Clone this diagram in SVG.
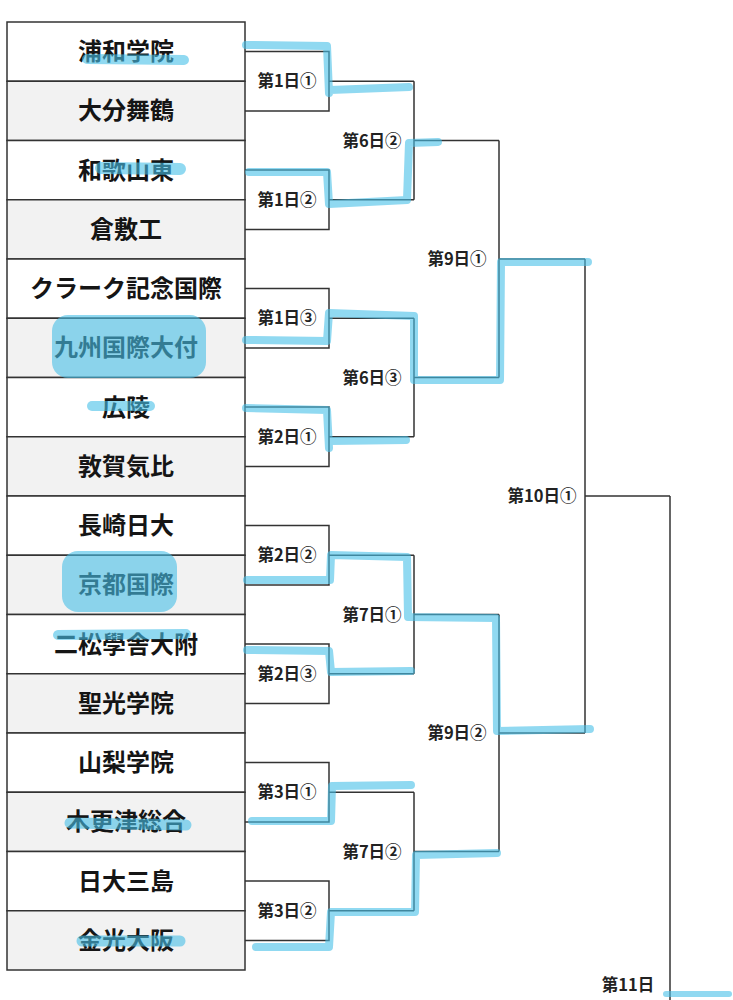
<svg xmlns="http://www.w3.org/2000/svg" width="733" height="1000" viewBox="0 0 733 1000">
<style>
.row{stroke:#333;stroke-width:1.5}
.odd{fill:#ffffff}
.even{fill:#f2f2f2}
.team{font-family:"Noto Sans CJK JP","Noto Sans",sans-serif;font-size:24px;font-weight:700;fill:#151515;text-anchor:middle;dominant-baseline:central}
.lbl{font-family:"Noto Sans CJK JP","Noto Sans",sans-serif;font-size:16.5px;font-weight:700;fill:#222;text-anchor:middle;dominant-baseline:central}
.wire{fill:none;stroke:#333;stroke-width:1.5}
.hl{fill:none;stroke:#48c0e8;stroke-width:8;stroke-linecap:round;stroke-linejoin:round}
.blob{fill:#48c0e8}
</style>
<rect x="0" y="0" width="733" height="1000" fill="#ffffff"/>
<g id="teams">
<g id="team-01"><rect class="row odd" x="7" y="22" width="238" height="59.25"/><text class="team" x="126" y="49.6">浦和学院</text></g>
<g id="team-02"><rect class="row even" x="7" y="81.25" width="238" height="59.25"/><text class="team" x="126" y="108.9">大分舞鶴</text></g>
<g id="team-03"><rect class="row odd" x="7" y="140.5" width="238" height="59.25"/><text class="team" x="126" y="168.1">和歌山東</text></g>
<g id="team-04"><rect class="row even" x="7" y="199.75" width="238" height="59.25"/><text class="team" x="126" y="227.4">倉敷工</text></g>
<g id="team-05"><rect class="row odd" x="7" y="259" width="238" height="59.25"/><text class="team" x="126" y="286.6">クラーク記念国際</text></g>
<g id="team-06"><rect class="row even" x="7" y="318.25" width="238" height="59.25"/><text class="team" x="126" y="345.9">九州国際大付</text></g>
<g id="team-07"><rect class="row odd" x="7" y="377.5" width="238" height="59.25"/><text class="team" x="126" y="405.1">広陵</text></g>
<g id="team-08"><rect class="row even" x="7" y="436.75" width="238" height="59.25"/><text class="team" x="126" y="464.4">敦賀気比</text></g>
<g id="team-09"><rect class="row odd" x="7" y="496" width="238" height="59.25"/><text class="team" x="126" y="523.6">長崎日大</text></g>
<g id="team-10"><rect class="row even" x="7" y="555.25" width="238" height="59.25"/><text class="team" x="126" y="582.9">京都国際</text></g>
<g id="team-11"><rect class="row odd" x="7" y="614.5" width="238" height="59.25"/><text class="team" x="126" y="642.1">二松學舎大附</text></g>
<g id="team-12"><rect class="row even" x="7" y="673.75" width="238" height="59.25"/><text class="team" x="126" y="701.4">聖光学院</text></g>
<g id="team-13"><rect class="row odd" x="7" y="733" width="238" height="59.25"/><text class="team" x="126" y="760.6">山梨学院</text></g>
<g id="team-14"><rect class="row even" x="7" y="792.25" width="238" height="59.25"/><text class="team" x="126" y="819.9">木更津総合</text></g>
<g id="team-15"><rect class="row odd" x="7" y="851.5" width="238" height="59.25"/><text class="team" x="126" y="879.1">日大三島</text></g>
<g id="team-16"><rect class="row even" x="7" y="910.75" width="238" height="59.25"/><text class="team" x="126" y="938.4">金光大阪</text></g>
</g>
<g id="connectors">
<path class="wire" d="M245,51.6 H329 V110.9 H245 M329,81.25 H414"/>
<path class="wire" d="M245,170.1 H329 V229.4 H245 M329,199.75 H414"/>
<path class="wire" d="M245,288.6 H329 V347.9 H245 M329,318.25 H414"/>
<path class="wire" d="M245,407.1 H329 V466.4 H245 M329,436.75 H414"/>
<path class="wire" d="M245,525.6 H329 V584.9 H245 M329,555.25 H414"/>
<path class="wire" d="M245,644.1 H329 V703.4 H245 M329,673.75 H414"/>
<path class="wire" d="M245,762.6 H329 V821.9 H245 M329,792.25 H414"/>
<path class="wire" d="M245,881.1 H329 V940.4 H245 M329,910.75 H414"/>
<path class="wire" d="M414,81.25 V199.75 M414,140.5 H499"/>
<path class="wire" d="M414,318.25 V436.75 M414,377.5 H499"/>
<path class="wire" d="M414,555.25 V673.75 M414,614.5 H499"/>
<path class="wire" d="M414,792.25 V910.75 M414,851.5 H499"/>
<path class="wire" d="M499,140.5 V377.5 M499,259 H585"/>
<path class="wire" d="M499,614.5 V851.5 M499,733 H585"/>
<path class="wire" d="M585,259 V733 M585,496 H670"/>
<path class="wire" d="M670,496 V1000"/>
</g>
<g id="matches">
<g id="m-1-1"><text class="lbl" x="287" y="80.25">第1日①</text></g>
<g id="m-1-2"><text class="lbl" x="287" y="198.75">第1日②</text></g>
<g id="m-1-3"><text class="lbl" x="287" y="317.25">第1日③</text></g>
<g id="m-2-1"><text class="lbl" x="287" y="435.75">第2日①</text></g>
<g id="m-2-2"><text class="lbl" x="287" y="554.25">第2日②</text></g>
<g id="m-2-3"><text class="lbl" x="287" y="672.75">第2日③</text></g>
<g id="m-3-1"><text class="lbl" x="287" y="791.25">第3日①</text></g>
<g id="m-3-2"><text class="lbl" x="287" y="909.75">第3日②</text></g>
<g id="m-6-2"><text class="lbl" x="372" y="139.5">第6日②</text></g>
<g id="m-6-3"><text class="lbl" x="372" y="376.5">第6日③</text></g>
<g id="m-7-1"><text class="lbl" x="372" y="613.5">第7日①</text></g>
<g id="m-7-2"><text class="lbl" x="372" y="850.5">第7日②</text></g>
<g id="m-9-1"><text class="lbl" x="457" y="258">第9日①</text></g>
<g id="m-9-2"><text class="lbl" x="457" y="732">第9日②</text></g>
<g id="m-10-1"><text class="lbl" x="542" y="495">第10日①</text></g>
<g id="m-11"><text class="lbl" x="628" y="984">第11日</text></g>
</g>
<g id="highlights" opacity="0.6">
<path class="hl" d="M87,59 L184,60" style="stroke-width:10"/>
<path class="hl" d="M246,45 L327,46 L329,93 M330,90 L409,87"/>
<path class="hl" d="M101,168 L180,169" style="stroke-width:12"/>
<path class="hl" d="M249,172 L327,172 L329,204 L407,200 L409,143 L438,142"/>
<rect class="blob" x="52" y="315" width="154" height="63" rx="16"/>
<path class="hl" d="M246,340 L327,341 L329,313 L414,316 L414,380 L500,380 L501,262 L588,262"/>
<path class="hl" d="M92,406 L150,406" style="stroke-width:10"/>
<path class="hl" d="M246,408 L327,410 L329,448 M330,441 L406,440"/>
<rect class="blob" x="62" y="551" width="115" height="61" rx="16"/>
<path class="hl" d="M247,580 L330,580 L331,555 L407,557 L408,617 L496,618 L497,731 L590,729"/>
<path class="hl" d="M58,635 L186,634" style="stroke-width:10"/>
<path class="hl" d="M247,650 L329,651 L331,672 L411,671"/>
<path class="hl" d="M70,823 L186,825" style="stroke-width:11"/>
<path class="hl" d="M252,821 L331,821 L332,786 L411,785"/>
<path class="hl" d="M82,941 L180,941" style="stroke-width:11"/>
<path class="hl" d="M256,947 L329,947 L331,912 L415,912 L416,855 L497,853"/>
<path class="hl" d="M666,994 L729,994" style="stroke-width:6"/>
</g>
</svg>
